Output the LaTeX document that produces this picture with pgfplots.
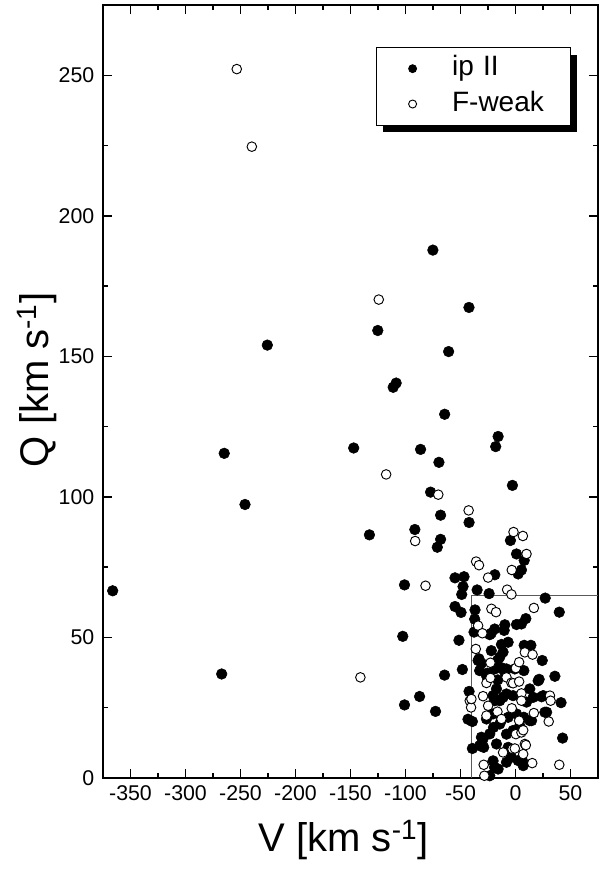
\documentclass[border=0pt]{standalone}
\usepackage{fontspec}
\setmainfont{Liberation Sans}
\usepackage{pgfplots}
\pgfplotsset{compat=1.18}
\usetikzlibrary{shadows}

\pgfplotstableread{
v q
-366.2 66.6
-267.1 37.0
-264.8 115.5
-245.9 97.3
-225.6 154.0
-147.1 117.4
-132.8 86.5
-125.2 159.2
-111.2 139.0
-108.5 140.5
-102.5 50.4
-100.9 68.7
-100.9 26.0
-91.5 88.4
-87.2 29.0
-86.3 116.9
-77.2 101.7
-75.1 187.8
-72.7 23.7
-71.1 82.1
-69.6 112.3
-68.1 93.5
-68.1 84.9
-64.4 129.4
-64.5 36.6
-60.8 151.7
-55.0 71.2
-55.0 61.0
-51.4 49.0
-49.5 58.9
-48.3 38.6
-48.9 65.3
-47.7 68.1
-46.8 71.6
-43.2 20.9
-42.3 167.4
-42.2 90.9
-42.2 30.8
-39.2 20.1
-39.2 10.5
-37.1 56.5
-37.7 51.9
-36.8 59.8
-34.9 66.9
-34.0 41.8
-33.2 42.4
-32.6 38.2
-32.6 11.5
-31.0 40.8
-31.0 14.5
-29.5 13.9
-28.9 10.9
-26.4 21.0
-26.4 36.4
-25.5 37.3
-24.0 65.6
-23.4 51.0
-23.4 15.7
-23.4 0.8
-22.0 45.3
-22.0 51.5
-20.4 29.3
-20.4 22.8
-20.4 6.1
-20.0 18.0
-19.1 3.8
-18.9 38.8
-18.9 53.0
-18.8 72.3
-18.8 27.5
-18.0 117.9
-17.3 31.7
-17.3 12.1
-16.4 41.8
-16.1 34.9
-15.8 121.5
-15.8 3.2
-14.3 43.0
-14.3 27.5
-14.3 19.2
-12.8 47.5
-12.8 20.6
-11.9 39.1
-11.3 44.8
-11.3 28.7
-10.3 52.5
-9.7 54.5
-9.8 37.6
-8.2 38.8
-8.2 29.9
-8.2 15.6
-8.2 5.6
-6.7 48.3
-6.7 21.6
-6.7 10.9
-4.6 84.5
-3.7 7.4
-2.8 104.1
-2.2 29.3
-2.2 16.9
-0.6 38.8
0.9 79.7
0.9 54.6
0.9 22.8
2.4 72.6
2.4 6.2
3.9 18.6
5.4 74.0
5.4 54.8
6.9 5.6
7.0 4.4
7.6 38.2
7.6 21.6
7.9 77.4
7.9 47.2
9.4 56.7
10.0 27.0
13.0 31.7
13.0 20.4
14.0 47.2
14.6 20.4
16.1 28.7
20.6 34.6
21.5 35.1
23.7 28.9
24.3 41.8
25.2 29.3
26.7 23.4
27.0 64.0
28.3 23.4
35.8 36.2
39.8 59.0
41.4 26.8
42.8 14.2
}\ipII

\pgfplotstableread{
v q
-253.4 252.2
-239.7 224.6
-141.0 35.8
-124.3 170.2
-117.6 108.0
-91.2 84.3
-81.8 68.4
-70.2 100.8
-42.6 95.2
-41.6 27.5
-40.4 25.1
-40.1 28.1
-36.1 45.9
-35.8 77.0
-34.0 54.2
-33.2 75.7
-30.1 51.5
-29.5 29.1
-28.9 4.7
-28.3 0.8
-26.4 33.8
-26.4 22.2
-24.9 71.3
-24.9 25.7
-22.8 41.0
-22.8 35.6
-21.9 60.2
-17.7 59.0
-16.4 23.6
-12.8 21.0
-11.3 9.1
-8.2 35.8
-7.6 67.0
-3.7 65.3
-3.4 74.0
-3.4 24.8
-3.7 33.9
-2.2 33.7
-2.8 10.3
-1.8 87.5
0.3 39.1
0.3 15.6
-0.6 10.5
3.3 41.2
3.3 34.3
3.3 20.4
5.4 30.1
5.4 27.5
5.4 16.2
6.7 86.1
7.0 17.0
7.0 8.5
8.5 44.7
8.5 12.1
9.4 11.7
10.0 79.7
15.2 5.3
15.5 43.9
16.7 60.5
16.7 23.1
30.2 20.1
31.3 29.3
31.9 27.5
39.8 4.7
}\Fweak

\begin{document}
\begin{tikzpicture}
\useasboundingbox (-77.25pt,-69.75pt) rectangle (372.75pt,583.5pt);
\begin{axis}[
  scale only axis, width=371.25pt, height=579.75pt,
  xmin=-375, xmax=75, ymin=0, ymax=275,
  xtick={-350,-300,...,50}, ytick={0,50,...,250},
  minor x tick num=1, minor y tick num=1,
  tick align=inside,
  major tick length=7pt, minor tick length=3.75pt,
  axis line style={line width=1.5pt},
  every tick/.style={black, line width=1.1pt},
  tick label style={font=\fontsize{16}{19}\selectfont},
  /pgf/number format/assume math mode=true,
  xticklabel shift=2pt, yticklabel shift=3pt,
  xlabel={V [km s\textsuperscript{-1}]},
  ylabel={Q [km s\textsuperscript{-1}]},
  every axis x label/.style={at={(axis description cs:0.486,-0.0802)}, anchor=center, font=\fontsize{30}{36}\selectfont},
  every axis y label/.style={at={(axis description cs:-0.1333,0.515)}, rotate=90, anchor=center, font=\fontsize{30}{36}\selectfont},
  legend style={at={(0.551,0.9453)}, anchor=north west, draw=black, line width=0.6pt, fill=white,
    font=\fontsize{21}{25}\selectfont, inner xsep=8pt, inner ysep=4.5pt, row sep=4pt,
    nodes={inner xsep=0pt, inner ysep=2pt, text height=14.5pt, text depth=4pt, text width=80.5pt},
    drop shadow={shadow xshift=5.25pt, shadow yshift=-5.25pt, fill=black, opacity=1}},
  legend cell align=left,
  legend image code/.code={\path (-19pt,0pt) (29.25pt,0pt); \draw[#1, mark size=3pt] plot coordinates {(0pt,0pt)};},
]
\addplot[forget plot, gray!70!black, line width=0.6pt] coordinates {(-40,0) (-40,65) (75,65)};
\addplot[only marks, mark=*, mark size=4pt, draw=black, fill=black] table[x=v,y=q] {\ipII};
\addlegendentry{ip II}
\addplot[only marks, mark=*, mark size=3.6pt, draw=black, fill=white, line width=0.7pt] table[x=v,y=q] {\Fweak};
\addlegendentry{F-weak}
\end{axis}
\end{tikzpicture}
\end{document}
